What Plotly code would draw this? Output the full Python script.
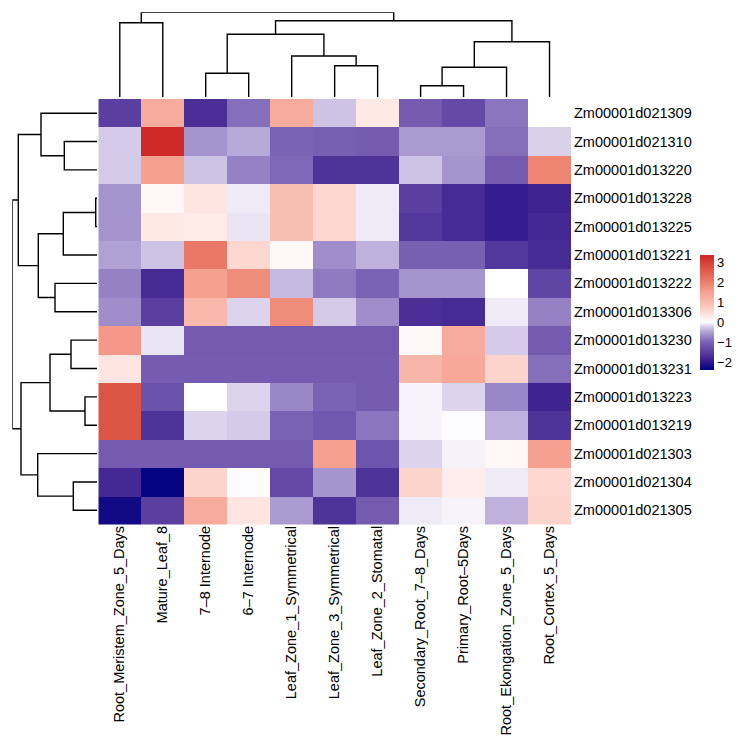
import plotly.graph_objects as go

# ---------------- data ----------------
col_names = ["Root_Meristem_Zone_5_Days", "Mature_Leaf_8", "7–8 Internode", "6–7 Internode",
             "Leaf_Zone_1_Symmetrical", "Leaf_Zone_3_Symmetrical", "Leaf_Zone_2_Stomatal",
             "Secondary_Root_7–8_Days", "Primary_Root–5Days", "Root_Ekongation_Zone_5_Days",
             "Root_Cortex_5_Days"]
row_names = ["Zm00001d021309", "Zm00001d021310", "Zm00001d013220", "Zm00001d013228",
             "Zm00001d013225", "Zm00001d013221", "Zm00001d013222", "Zm00001d013306",
             "Zm00001d013230", "Zm00001d013231", "Zm00001d013223", "Zm00001d013219",
             "Zm00001d021303", "Zm00001d021304", "Zm00001d021305"]

values = [
    [-1.5, 1.3, -1.7, -0.9, 1.3, -0.3, 0.3, -1.1, -1.35, -0.85, 0.0],
    [-0.25, 3.3, -0.6, -0.45, -1.0, -1.05, -1.1, -0.55, -0.55, -0.9, -0.22],
    [-0.25, 1.5, -0.3, -0.75, -0.95, -1.65, -1.65, -0.3, -0.6, -1.1, 1.9],
    [-0.6, 0.1, 0.35, -0.1, 0.95, 0.55, -0.1, -1.5, -1.75, -1.95, -1.85],
    [-0.6, 0.3, 0.28, -0.12, 0.95, 0.55, -0.1, -1.6, -1.75, -1.95, -1.8],
    [-0.5, -0.3, 2.1, 0.55, 0.1, -0.65, -0.4, -1.05, -1.05, -1.6, -1.75],
    [-0.75, -1.75, 1.5, 1.8, -0.35, -0.8, -1.0, -0.6, -0.6, 0.0, -1.4],
    [-0.65, -1.5, 1.05, -0.2, 1.8, -0.25, -0.65, -1.7, -1.75, -0.1, -0.75],
    [1.6, -0.12, -1.1, -1.1, -1.1, -1.1, -1.1, 0.1, 1.3, -0.25, -1.1],
    [0.35, -1.08, -1.08, -1.08, -1.08, -1.08, -1.08, 1.1, 1.35, 0.6, -0.9],
    [2.7, -1.25, 0.0, -0.2, -0.7, -1.0, -1.08, -0.05, -0.2, -0.7, -1.85],
    [2.7, -1.65, -0.2, -0.25, -1.0, -1.15, -0.85, -0.05, -0.02, -0.4, -1.65],
    [-1.1, -1.1, -1.1, -1.1, -1.1, 1.5, -1.2, -0.2, -0.06, 0.1, 1.5],
    [-1.8, -2.35, 0.6, -0.02, -1.35, -0.6, -1.65, 0.6, 0.25, -0.1, 0.55],
    [-2.25, -1.5, 1.3, 0.35, -0.55, -1.65, -1.1, -0.1, -0.05, -0.4, 0.6],
]

# hclust-style merges: negative = leaf (1-based), positive = earlier merge (1-based)
col_merge = [(-8, -9), (-3, -4), (1, -10), (-6, -7), (-5, 4), (3, -11), (2, 5), (-1, -2), (7, 6), (8, 9)]
col_height = [11.3, 23.7, 29.7, 31.3, 41.0, 55.3, 62.7, 74.3, 76.3, 84.7]

row_merge = [(-4, -5), (-11, -12), (-14, -15), (-9, -10), (-2, -3), (1, -6), (-7, -8), (4, 2),
             (-1, 5), (6, 7), (-13, 3), (8, 11), (9, 10), (13, 12)]
row_height = [1.3, 12.0, 23.7, 26.0, 32.7, 33.7, 42.0, 47.0, 56.0, 58.7, 59.3, 76.0, 78.7, 84.7]

zmin, zmax = -2.4, 3.35
scale_vals = [-2.4, -1.9, -1.5, -1.0, -0.5, -0.2, 0.0, 0.5, 1.0, 1.5, 2.0, 2.7, 3.35]
scale_cols = ["#000080", "#3B1F8E", "#5A3FA0", "#7A62B4", "#B0A0D4", "#DCD4EC", "#FFFFFF",
              "#FDDAD4", "#F9BBAE", "#F6A090", "#EC7E6C", "#DC5444", "#CD2626"]
cbar_ticks = [-2, -1, 0, 1, 2, 3]


# ---------------- helpers ----------------
def dendro_segments(merge, heights):
    pos, hts = {}, {}
    a, b = [], []  # position coords, height coords
    for k, (l, r) in enumerate(merge, start=1):
        pts = []
        for c in (l, r):
            if c < 0:
                pts.append((float(-c - 1), 0.0))
            else:
                pts.append((pos[c], hts[c]))
        h = heights[k - 1]
        (p1, h1), (p2, h2) = pts
        a += [p1, p1, p2, p2, None]
        b += [h1, h, h, h2, None]
        pos[k] = (p1 + p2) / 2
        hts[k] = h
    return a, b


W, H = 756, 751
hx0, hx1 = 98.3, 571.0
hy0, hy1 = 99.0, 524.5
dtop = 12.3
dend_base = 97.0
maxh = max(col_height)
xlab_axis_px = 522.0  # where the (invisible) label axis sits

colorscale = [[(v - zmin) / (zmax - zmin), c] for v, c in zip(scale_vals, scale_cols)]
font = "Liberation Sans, Arial, Helvetica, sans-serif"

fig = go.Figure()
fig.add_trace(go.Heatmap(
    z=values, x=col_names, y=row_names, zmin=zmin, zmax=zmax, colorscale=colorscale,
    xgap=0, ygap=0,
    colorbar=dict(x=700 / W, xanchor="left", y=1 - 312.5 / H, yanchor="middle",
                  len=115, lenmode="pixels", thickness=14, thicknessmode="pixels",
                  outlinewidth=0, ticks="", tickvals=cbar_ticks, xpad=0, ypad=0,
                  tickfont=dict(size=13, color="#000", family=font)),
    xaxis="x", yaxis="y", hoverongaps=False))

cx, cy = dendro_segments(col_merge, col_height)
fig.add_trace(go.Scatter(x=cx, y=cy, mode="lines", line=dict(color="#000", width=1.4),
                         xaxis="x2", yaxis="y2", showlegend=False, hoverinfo="skip"))
ry, rx = dendro_segments(row_merge, row_height)
fig.add_trace(go.Scatter(x=rx, y=ry, mode="lines", line=dict(color="#000", width=1.4),
                         xaxis="x3", yaxis="y3", showlegend=False, hoverinfo="skip"))

fig.update_layout(
    width=W, height=H, margin=dict(l=0, r=0, t=0, b=0),
    paper_bgcolor="white", plot_bgcolor="white",
    font=dict(family=font, color="#000"),
    xaxis=dict(domain=[hx0 / W, hx1 / W], anchor="free", position=1 - xlab_axis_px / H,
               range=[-0.5, 10.5], tickangle=-90,
               ticks="", showgrid=False, zeroline=False, showline=False,
               tickfont=dict(size=14.5, color="#000", family=font)),
    yaxis=dict(domain=[1 - hy1 / H, 1 - hy0 / H], anchor="x", side="right", range=[14.5, -0.5],
               ticks="", showgrid=False, zeroline=False, showline=False, ticklabelstandoff=2,
               tickfont=dict(size=14.5, color="#000", family=font)),
    xaxis2=dict(domain=[hx0 / W, hx1 / W], anchor="y2", range=[-0.5, 10.5], visible=False),
    yaxis2=dict(domain=[1 - dend_base / H, 1 - dtop / H], anchor="x2", range=[0, maxh], visible=False),
    xaxis3=dict(domain=[dtop / W, dend_base / W], anchor="y3", range=[maxh, 0], visible=False),
    yaxis3=dict(domain=[1 - hy1 / H, 1 - hy0 / H], anchor="x3", range=[14.5, -0.5], visible=False),
)

fig.write_html("out.html")
